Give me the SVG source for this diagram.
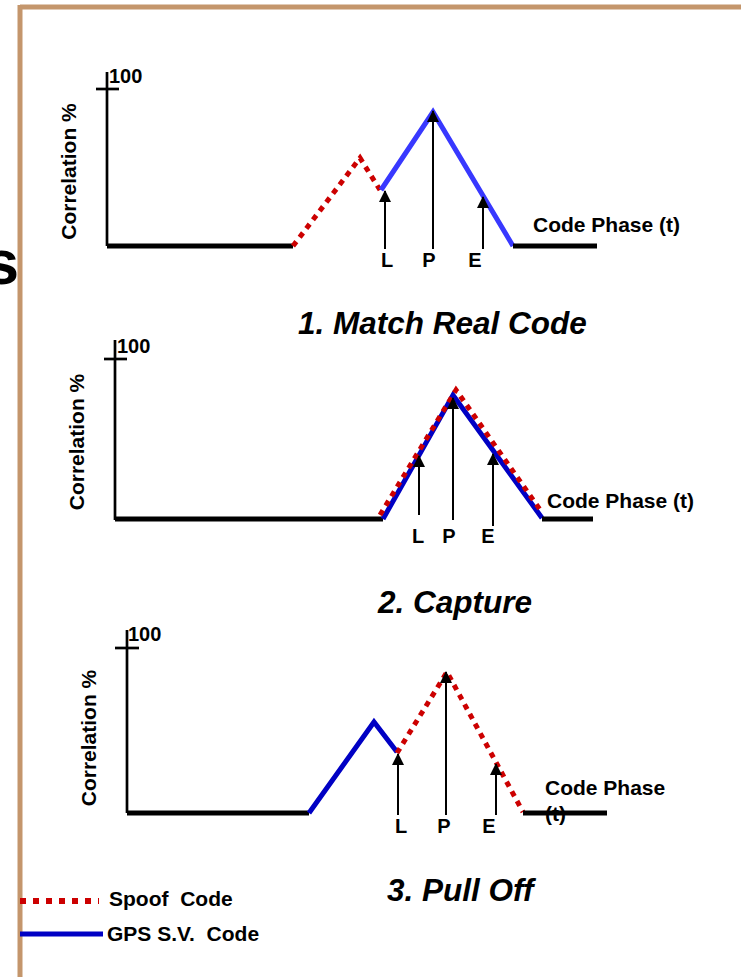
<svg xmlns="http://www.w3.org/2000/svg" width="741" height="977" viewBox="0 0 741 977">
<style>
text{font-family:"Liberation Sans",Arial,sans-serif;font-weight:bold;fill:#000}
.lbl{font-size:20px}
.cp{font-size:21px}
.leg{font-size:21px}
.ttl{font-size:31.5px;font-style:italic}
.axis{stroke:#000;stroke-width:2.7;fill:none}
.base{stroke:#000;stroke-width:5;fill:none}
.spoof{stroke:#CC0000;stroke-width:5;stroke-dasharray:5.5 5.5;fill:none}
.gps1{stroke:#3838FF;stroke-width:5;fill:none;stroke-linejoin:miter}
.gps{stroke:#0000C4;stroke-width:5;fill:none}
.arr{stroke:#000;stroke-width:2;fill:none;marker-end:url(#ah)}
</style>
<defs>
<marker id="ah" markerUnits="userSpaceOnUse" markerWidth="12" markerHeight="12" refX="11" refY="6" orient="auto">
<path d="M0,0 L12,6 L0,12 z" fill="#000"/>
</marker>
</defs>
<rect width="741" height="977" fill="#fff"/>
<text x="19" y="284" text-anchor="end" style="font-size:63px">s</text>
<g id="frame">
<line x1="20" y1="7" x2="741" y2="7" stroke="#C4966C" stroke-width="5"/>
<line x1="20" y1="5" x2="20" y2="977" stroke="#C4966C" stroke-width="5"/>
</g>

<g id="panel1">
<g id="axes1">
<line class="axis" x1="107" y1="72" x2="107" y2="246"/>
<line class="axis" x1="96" y1="89" x2="119" y2="89"/>
<text class="lbl" x="109" y="83">100</text>
<text class="cp" transform="translate(76,171.5) rotate(-90)" text-anchor="middle">Correlation %</text>
</g>
<g id="curves1">
<polyline class="base" points="107,246 293,246"/>
<polyline class="spoof" points="293,246 360,158 380,190"/>
<polyline class="gps1" points="381,190 433,112 513,246"/>
<polyline class="base" points="513,246 597,246"/>
</g>
<g id="connectors1">
<line class="arr" x1="385" y1="249" x2="385" y2="191"/>
<line class="arr" x1="433" y1="249" x2="433" y2="111"/>
<line class="arr" x1="483" y1="249" x2="483" y2="197"/>
</g>
<text class="lbl" x="387" y="267" text-anchor="middle">L</text>
<text class="lbl" x="429" y="267" text-anchor="middle">P</text>
<text class="lbl" x="475" y="267" text-anchor="middle">E</text>
<text class="cp" x="533" y="232">Code Phase (t)</text>
<text class="ttl" x="298" y="334">1. Match Real Code</text>
</g>

<g id="panel2">
<g id="axes2">
<line class="axis" x1="115" y1="340" x2="115" y2="520"/>
<line class="axis" x1="104" y1="359" x2="127" y2="359"/>
<text class="lbl" x="117" y="353">100</text>
<text class="cp" transform="translate(84,442) rotate(-90)" text-anchor="middle">Correlation %</text>
</g>
<g id="curves2">
<polyline class="base" points="115,519 383,519"/>
<polyline class="gps" points="383,519 453,395 542,518"/>
<polyline class="spoof" points="380,515 456,390 541,511"/>
<polyline class="base" points="542,519 593,519"/>
</g>
<g id="connectors2">
<line class="arr" x1="419" y1="515" x2="419" y2="456"/>
<line class="arr" x1="453" y1="520" x2="453" y2="398"/>
<line class="arr" x1="493" y1="526" x2="493" y2="454"/>
</g>
<text class="lbl" x="418" y="543" text-anchor="middle">L</text>
<text class="lbl" x="449" y="543" text-anchor="middle">P</text>
<text class="lbl" x="488" y="543" text-anchor="middle">E</text>
<text class="cp" x="547" y="508">Code Phase (t)</text>
<text class="ttl" x="378" y="613">2. Capture</text>
</g>

<g id="panel3">
<g id="axes3">
<line class="axis" x1="127" y1="630" x2="127" y2="813"/>
<line class="axis" x1="115" y1="648" x2="139" y2="648"/>
<text class="lbl" x="128" y="641">100</text>
<text class="cp" transform="translate(96,738) rotate(-90)" text-anchor="middle">Correlation %</text>
</g>
<g id="curves3">
<polyline class="base" points="127,813 309,813"/>
<polyline class="gps" points="309,813 374,722 397,752"/>
<polyline class="spoof" points="397,753 447,672 523,812"/>
<polyline class="base" points="523,813 607,813"/>
</g>
<g id="connectors3">
<line class="arr" x1="398" y1="815" x2="398" y2="754"/>
<line class="arr" x1="446" y1="815" x2="446" y2="672"/>
<line class="arr" x1="496" y1="815" x2="496" y2="764"/>
</g>
<text class="lbl" x="401" y="833" text-anchor="middle">L</text>
<text class="lbl" x="444" y="833" text-anchor="middle">P</text>
<text class="lbl" x="489" y="833" text-anchor="middle">E</text>
<text class="cp" x="545" y="795">Code Phase</text>
<text class="cp" x="545" y="821">(t)</text>
<text class="ttl" x="387" y="901">3. Pull Off</text>
</g>

<g id="legend">
<line x1="20" y1="901" x2="99" y2="901" stroke="#CC0000" stroke-width="6" stroke-dasharray="6 7"/>
<text class="leg" x="109" y="906">Spoof&#160; Code</text>
<line x1="20" y1="934" x2="103" y2="934" stroke="#0000C4" stroke-width="5"/>
<text class="leg" x="107" y="941">GPS S.V.&#160; Code</text>
</g>
</svg>
